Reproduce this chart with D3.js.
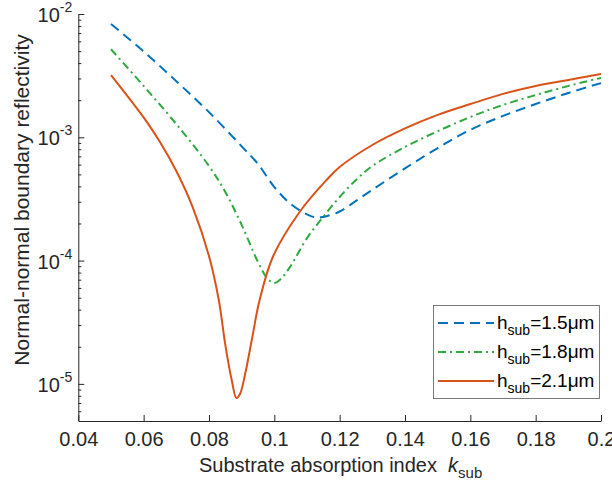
<!DOCTYPE html>
<html>
<head>
<meta charset="utf-8">
<script src="https://cdn.jsdelivr.net/npm/d3@7"></script>
<style>
  body { margin: 0; background: #fff; }
  svg { font-family: Arial, "Liberation Sans", sans-serif; }
</style>
</head>
<body>
<div id="root"></div>
<script>
// k_sub sample positions and reflectivity
const k15 = [0.05, 0.06, 0.07, 0.08, 0.09, 0.095, 0.1, 0.105, 0.11, 0.113, 0.115, 0.12, 0.125, 0.13, 0.14, 0.15, 0.16, 0.17, 0.18, 0.19, 0.2];
const r15 = [8.3e-3, 4.97e-3, 2.85e-3, 1.6e-3, 8.45e-4, 6.07e-4, 3.95e-4, 2.88e-4, 2.37e-4, 2.23e-4, 2.26e-4, 2.5e-4, 3.05e-4, 3.75e-4, 5.6e-4, 8.18e-4, 1.15e-3, 1.49e-3, 1.86e-3, 2.29e-3, 2.75e-3];

const k18 = [0.05, 0.06, 0.07, 0.08, 0.085, 0.09, 0.095, 0.098, 0.1, 0.102, 0.105, 0.11, 0.115, 0.12, 0.125, 0.13, 0.14, 0.15, 0.16, 0.17, 0.18, 0.19, 0.2];
const r18 = [5.18e-3, 2.61e-3, 1.28e-3, 5.85e-4, 3.6e-4, 1.95e-4, 9.75e-5, 7.1e-5, 6.58e-5, 7.1e-5, 9.04e-5, 1.52e-4, 2.27e-4, 3.28e-4, 4.51e-4, 5.85e-4, 8.34e-4, 1.12e-3, 1.46e-3, 1.83e-3, 2.2e-3, 2.61e-3, 3.03e-3];

const k21 = [0.05, 0.06, 0.065, 0.07, 0.075, 0.08, 0.083, 0.085, 0.087, 0.0884, 0.0895, 0.091, 0.0931, 0.0955, 0.0996, 0.1078, 0.116, 0.12, 0.13, 0.14, 0.15, 0.16, 0.17, 0.18, 0.19, 0.2];
const r21 = [3.2e-3, 1.45e-3, 9.16e-4, 5.33e-4, 2.72e-4, 1.09e-4, 4.79e-5, 2.07e-5, 1.06e-5, 7.69e-6, 8.28e-6, 1.18e-5, 2.27e-5, 4.79e-5, 1.08e-4, 2.49e-4, 4.51e-4, 5.74e-4, 8.66e-4, 1.18e-3, 1.52e-3, 1.86e-3, 2.25e-3, 2.61e-3, 2.92e-3, 3.26e-3];

const seriesNames = ["1.5\u03bcm", "1.8\u03bcm", "2.1\u03bcm"];
const xTicks = [0.04, 0.06, 0.08, 0.1, 0.12, 0.14, 0.16, 0.18, 0.2];
const yMajor = [1e-2, 1e-3, 1e-4, 1e-5];
const yExp = [-2, -3, -4, -5];

const W = 612, H = 490;
const mLeft = 78.3, mRight = 601, mTop = 14, mBottom = 421;
const axisColor = "#262626";

const svg = d3.select("#root").append("svg")
  .attr("width", W).attr("height", H);

const x = d3.scaleLinear().domain([0.04, 0.2]).range([mLeft, mRight]);
const y = d3.scaleLog().domain([5e-6, 1e-2]).range([mBottom, mTop]);

// y minor ticks
const yMinor = [];
[1e-6, 1e-5, 1e-4, 1e-3].forEach(d => {
  for (let m = 2; m <= 9; m++) {
    const v = d * m;
    if (v >= 5e-6 && v <= 1e-2) yMinor.push(v);
  }
});

const gy = svg.append("g").attr("transform", `translate(${mLeft},0)`);
gy.call(d3.axisLeft(y).tickValues(yMajor).tickSize(-6).tickSizeOuter(0).tickFormat(""));
gy.append("g").call(d3.axisLeft(y).tickValues(yMinor).tickSize(-3).tickFormat(""))
  .select(".domain").remove();
gy.selectAll("line, path").attr("stroke", axisColor);

yMajor.forEach((v, i) => {
  const t = gy.append("text")
    .attr("x", -6).attr("y", y(v) + 8)
    .attr("text-anchor", "end")
    .attr("fill", axisColor)
    .attr("font-size", 20);
  t.append("tspan").text("10");
  t.append("tspan").attr("dy", -10).attr("font-size", 14).text("-" + Math.abs(yExp[i]));
});

const gx = svg.append("g").attr("transform", `translate(0,${mBottom})`);
gx.call(d3.axisBottom(x).tickValues(xTicks).tickSize(-6).tickSizeOuter(0)
  .tickFormat(d => d3.format("")(+d.toFixed(2))));
gx.selectAll("line, path").attr("stroke", axisColor);
gx.selectAll("text").attr("font-size", 20).attr("fill", axisColor)
  .attr("y", 11).attr("dy", "0.71em")
  .attr("font-family", "Arial, 'Liberation Sans', sans-serif");

// axis labels
const xl = svg.append("text")
  .attr("x", (mLeft + mRight) / 2 + 1).attr("y", 472)
  .attr("text-anchor", "middle").attr("font-size", 20).attr("fill", axisColor);
xl.append("tspan").text("Substrate absorption index\u00a0\u00a0");
xl.append("tspan").attr("font-style", "italic").text("k");
xl.append("tspan").attr("dy", 6).attr("font-size", 15).text("sub");

svg.append("text")
  .attr("transform", "translate(29,200) rotate(-90)")
  .attr("text-anchor", "middle").attr("font-size", 21).attr("fill", axisColor)
  .text("Normal-normal boundary reflectivity");

// curves
const series = [
  { k: k15, r: r15, color: "#0072BD", dash: "10,6" },
  { k: k18, r: r18, color: "#2EAA3F", dash: "8,4,2,4" },
  { k: k21, r: r21, color: "#D95319", dash: null }
];

const line = d3.line()
  .x(d => x(d[0]))
  .y(d => y(d[1]))
  .curve(d3.curveCatmullRom.alpha(0.5));

const plot = svg.append("g");
series.forEach(s => {
  plot.append("path")
    .datum(s.k.map((k, i) => [k, s.r[i]]))
    .attr("fill", "none")
    .attr("stroke", s.color)
    .attr("stroke-width", 2)
    .attr("stroke-dasharray", s.dash)
    .attr("d", line);
});

// legend
const lg = svg.append("g");
lg.append("rect")
  .attr("x", 433.5).attr("y", 305.5).attr("width", 166).attr("height", 93)
  .attr("fill", "#fff").attr("stroke", "#7a7a7a").attr("stroke-width", 1);
series.forEach((s, i) => {
  const cy = 323 + i * 29;
  lg.append("line")
    .attr("x1", 438).attr("x2", 494).attr("y1", cy).attr("y2", cy)
    .attr("stroke", s.color).attr("stroke-width", 2)
    .attr("stroke-dasharray", s.dash);
  const t = lg.append("text")
    .attr("x", 497).attr("y", cy + 6)
    .attr("font-size", 19).attr("fill", "#000");
  t.append("tspan").text("h");
  t.append("tspan").attr("dy", 6).attr("font-size", 14).text("sub");
  t.append("tspan").attr("dy", -6).text("=" + seriesNames[i]);
});
</script>
</body>
</html>
